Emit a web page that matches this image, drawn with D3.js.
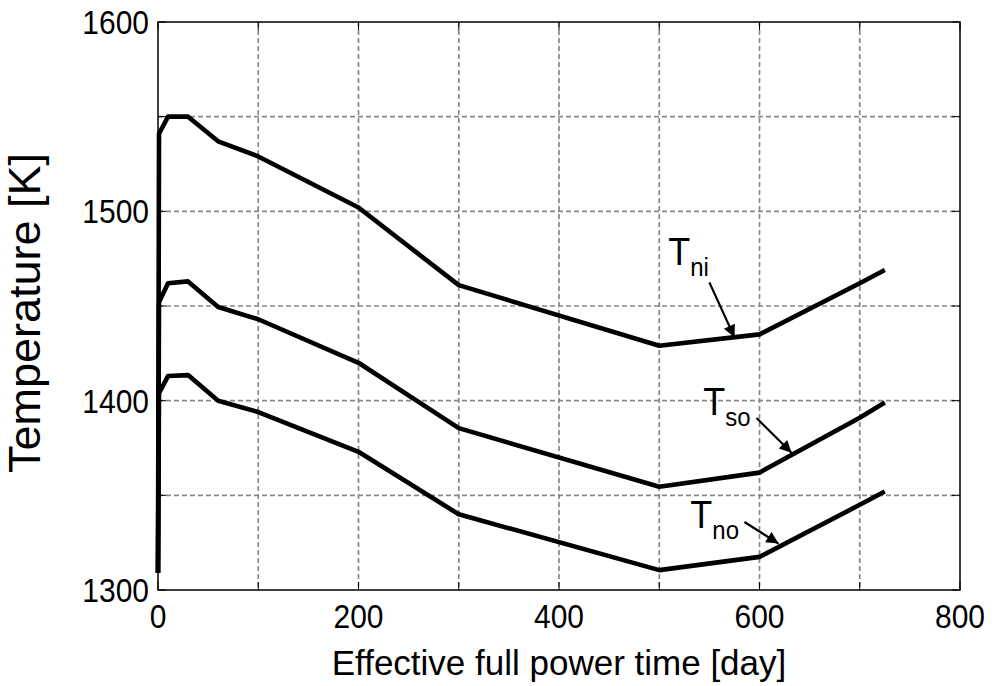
<!DOCTYPE html>
<html>
<head>
<meta charset="utf-8">
<script src="https://cdn.jsdelivr.net/npm/d3@7"></script>
<style>
  body { margin: 0; background: #fff; }
  text { font-family: "Liberation Sans", Arial, sans-serif; }
</style>
</head>
<body>
<div id="chart"></div>
<script>
// Data
const days = [0, 1, 10, 30, 60, 100, 200, 300, 500, 600, 700, 725];
const tNi = [1309, 1541, 1550, 1550, 1537, 1529, 1502, 1461, 1429, 1435, 1462, 1469];
const tSo = [1309, 1452, 1462, 1463, 1449.5, 1443, 1420, 1385.5, 1354.5, 1362, 1391, 1399];
const tNo = [1309, 1404, 1413, 1413.5, 1400, 1394, 1373, 1340, 1310.5, 1317.5, 1345, 1352];

const xTicks = [0, 100, 200, 300, 400, 500, 600, 700, 800];
const yTicks = [1300, 1350, 1400, 1450, 1500, 1550, 1600];
const xLabels = [0, 200, 400, 600, 800];
const yLabels = [1300, 1400, 1500, 1600];

// label: main letter, subscript, text anchor, arrow start, arrow end (data coords)
const notes = [
  { main: "T", sub: "ni", at: [509, 1471.5], from: [550, 1462.5], to: [575, 1433.5] },
  { main: "T", sub: "so", at: [544, 1392.4], from: [597, 1390.8], to: [632, 1372.5] },
  { main: "T", sub: "no", at: [531, 1332.7], from: [585, 1335.9], to: [619, 1324.5] }
];

const margin = { top: 22, right: 48, bottom: 96, left: 158 },
      width = 1008 - margin.left - margin.right,
      height = 686 - margin.top - margin.bottom;

const svg = d3.select("#chart")
    .append("svg")
    .attr("width", 1008)
    .attr("height", 686)
    .append("g")
    .attr("transform", `translate(${margin.left},${margin.top})`);

const x = d3.scaleLinear().domain([0, 800]).range([0, width]);
const y = d3.scaleLinear().domain([1300, 1600]).range([height, 0]);

// grid
svg.selectAll(".vgrid")
    .data(xTicks.slice(1, -1))
    .enter().append("line")
    .attr("x1", d => x(d)).attr("x2", d => x(d))
    .attr("y1", 0).attr("y2", height)
    .attr("stroke", "#888").attr("stroke-width", 1.7)
    .attr("stroke-dasharray", "5,3");

svg.selectAll(".hgrid")
    .data(yTicks.slice(1, -1))
    .enter().append("line")
    .attr("x1", 0).attr("x2", width)
    .attr("y1", d => y(d)).attr("y2", d => y(d))
    .attr("stroke", "#888").attr("stroke-width", 1.7)
    .attr("stroke-dasharray", "5,3");

// inward ticks on all four sides
const tl = 8;
xTicks.forEach(t => {
    svg.append("line").attr("x1", x(t)).attr("x2", x(t)).attr("y1", height).attr("y2", height - tl).attr("stroke", "#000");
    svg.append("line").attr("x1", x(t)).attr("x2", x(t)).attr("y1", 0).attr("y2", tl).attr("stroke", "#000");
});
yTicks.forEach(t => {
    svg.append("line").attr("x1", 0).attr("x2", tl).attr("y1", y(t)).attr("y2", y(t)).attr("stroke", "#000");
    svg.append("line").attr("x1", width).attr("x2", width - tl).attr("y1", y(t)).attr("y2", y(t)).attr("stroke", "#000");
});

// tick labels (slightly tall glyphs, like the original)
svg.selectAll(".xl")
    .data(xLabels)
    .enter().append("text")
    .attr("transform", d => `translate(${x(d)},${height + 38}) scale(1,1.12)`)
    .attr("text-anchor", "middle")
    .attr("font-size", 30)
    .text(d => d);

svg.selectAll(".yl")
    .data(yLabels)
    .enter().append("text")
    .attr("transform", d => `translate(-9,${y(d) + 12}) scale(1,1.12)`)
    .attr("text-anchor", "end")
    .attr("font-size", 30)
    .text(d => d);

// lines
const line = d3.line()
    .x((d, i) => x(days[i]))
    .y(d => y(d));

[tNi, tSo, tNo].forEach(s => {
    svg.append("path")
        .datum(s)
        .attr("fill", "none")
        .attr("stroke", "#000")
        .attr("stroke-width", 4.6)
        .attr("stroke-linejoin", "round")
        .attr("d", line);
});

// frame
svg.append("rect")
    .attr("width", width).attr("height", height)
    .attr("fill", "none").attr("stroke", "#000").attr("stroke-width", 1.5);

// annotations
svg.append("defs").append("marker")
    .attr("id", "arr")
    .attr("viewBox", "0 0 10 10")
    .attr("refX", 10).attr("refY", 5)
    .attr("markerWidth", 7).attr("markerHeight", 5.5)
    .attr("markerUnits", "strokeWidth")
    .attr("orient", "auto")
    .append("path")
    .attr("d", "M0,0 L10,5 L0,10 z")
    .attr("fill", "#000");

notes.forEach(n => {
    const t = svg.append("text")
        .attr("transform", `translate(${x(n.at[0])},${y(n.at[1])}) scale(1,1.1)`)
        .attr("font-size", 36);
    t.append("tspan").text(n.main);
    t.append("tspan").attr("font-size", 24).attr("dy", 10).text(n.sub);

    svg.append("line")
        .attr("x1", x(n.from[0])).attr("y1", y(n.from[1]))
        .attr("x2", x(n.to[0])).attr("y2", y(n.to[1]))
        .attr("stroke", "#000").attr("stroke-width", 2.2)
        .attr("marker-end", "url(#arr)");
});

// axis titles
svg.append("text")
    .attr("x", width / 2)
    .attr("y", height + 85)
    .attr("text-anchor", "middle")
    .attr("font-size", 35)
    .text("Effective full power time [day]");

svg.append("text")
    .attr("transform", "rotate(-90)")
    .attr("x", -height / 2 - 7)
    .attr("y", -118)
    .attr("text-anchor", "middle")
    .attr("font-size", 45)
    .text("Temperature [K]");
</script>
</body>
</html>
